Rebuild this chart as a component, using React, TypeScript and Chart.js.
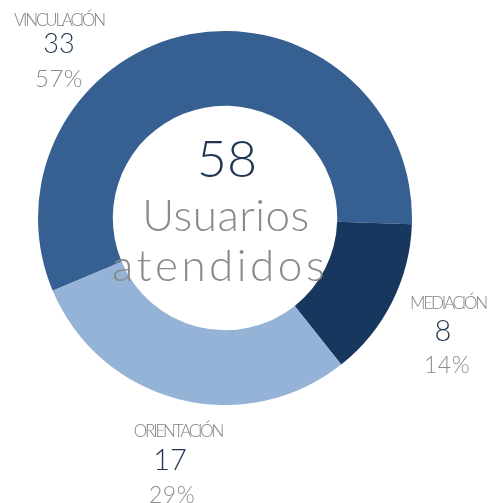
import React, { useEffect, useRef } from "react";
import { Chart, registerables } from "chart.js";

Chart.register(...registerables);

const categories = ["VINCULACIÓN", "MEDIACIÓN", "ORIENTACIÓN"];
const values = [33, 8, 17];
const percents = ["57%", "14%", "29%"];
const totalLabel = "58";
const centerLines = ["Usuarios", "atendidos"];
const sliceColors = ["#376092", "#17375e", "#95b3d7"];

const labelPos = [
  { x: 59, yl: 18.5, yv: 41.5, yp: 77.5, vs: 27, ps: 24 },
  { x: 448, yl: 301.5, yv: 328.5, yp: 364, vs: 29, ps: 23, vx: 443, px: 447 },
  { x: 178, yl: 430, yv: 457.5, yp: 493.5, vs: 29, ps: 23, vx: 170, px: 172 },
];

const FONT = "Lato, 'DejaVu Sans', sans-serif";

function T(props: { x: number; y: number; size: number; color: string; text: string; ls?: number; weight?: number }) {
  return (
    <div
      style={{
        position: "absolute",
        left: props.x,
        top: props.y,
        transform: "translate(-50%, -50%)",
        fontFamily: FONT,
        fontWeight: props.weight ?? 300,
        fontSize: props.size,
        lineHeight: 1,
        color: props.color,
        whiteSpace: "nowrap",
        letterSpacing: props.ls ?? 0,
      }}
    >
      {props.text}
    </div>
  );
}

export default function App() {
  const ref = useRef<HTMLCanvasElement | null>(null);
  useEffect(() => {
    document.body.style.margin = "0";
    const chart = new Chart(ref.current!, {
      type: "doughnut",
      data: {
        labels: categories,
        datasets: [
          {
            data: values,
            backgroundColor: sliceColors,
            borderWidth: 0,
          },
        ],
      },
      options: {
        responsive: false,
        animation: false,
        rotation: 247.1,
        cutout: "60%",
        layout: { padding: { left: 38, right: 83, top: 31, bottom: 98 } },
        plugins: { legend: { display: false }, tooltip: { enabled: false } },
      },
    });
    return () => chart.destroy();
  }, []);

  return (
    <div style={{ position: "relative", width: 495, height: 503, background: "#fff", overflow: "hidden" }}>
      <canvas ref={ref} width={495} height={503} style={{ position: "absolute", left: 0, top: 0 }} />
      {categories.map((c, i) => {
        const p = labelPos[i];
        return (
          <React.Fragment key={c}>
            <T x={p.x} y={p.yl} size={17} color="#7f7f7f" text={c} ls={-2.2} />
            <T x={p.vx ?? p.x} y={p.yv} size={p.vs} color="#1f3552" text={String(values[i])} />
            <T x={p.px ?? p.x} y={p.yp} size={p.ps} color="#8c8c8c" text={percents[i]} ls={0.5} />
          </React.Fragment>
        );
      })}
      <T x={227} y={156.5} size={52} color="#1f3552" text={totalLabel} />
      <T x={226} y={214} size={44} color="#8a8a8a" text={centerLines[0]} ls={0.5} />
      <T x={220} y={264} size={44} color="#8a8a8a" text={centerLines[1]} ls={3.5} />
    </div>
  );
}
